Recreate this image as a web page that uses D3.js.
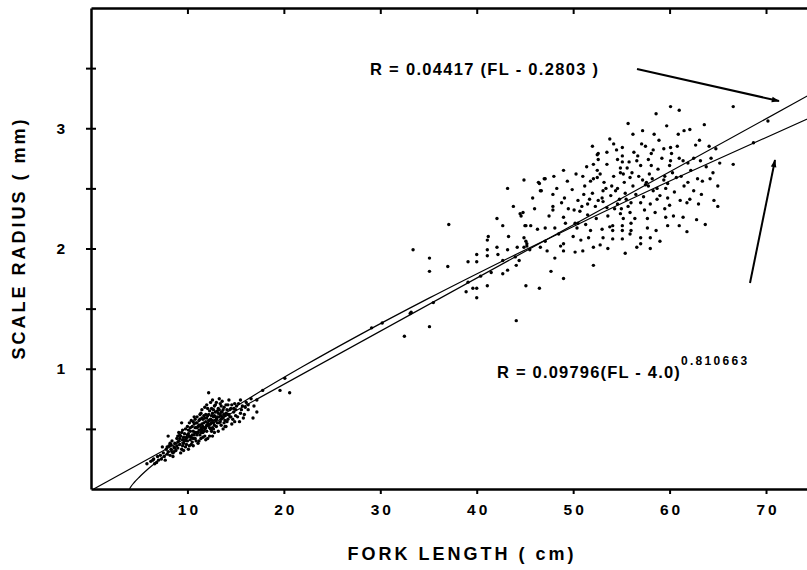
<!DOCTYPE html>
<html>
<head>
<meta charset="utf-8">
<script src="https://cdn.jsdelivr.net/npm/d3@7"></script>
<style>
body{margin:0;background:#fff}
text{font-family:"Liberation Sans",Arial,sans-serif;font-weight:bold;fill:#000}
</style>
</head>
<body>
<svg id="chart" width="807" height="570"></svg>
<script>
// tick values
const xTicks = [10, 20, 30, 40, 50, 60, 70]
const yTicks = [0.5, 1, 1.5, 2, 2.5, 3, 3.5]
const yLabels = [1, 2, 3]

// fish: [fork length cm, scale radius mm]
const smallFish = [
  [5.8,0.21],[6.4,0.24],[6.2,0.23],[6.5,0.25],[6.8,0.22],[6.9,0.27],[7.0,0.24],[6.6,0.21],
  [7.2,0.28],[7.3,0.25],[7.5,0.30],[7.6,0.27],[7.8,0.33],[7.9,0.29],[7.4,0.35],[7.7,0.24],[8.0,0.31],
  [8.1,0.36],[8.2,0.28],[8.3,0.33],[8.4,0.40],[8.5,0.30],[8.6,0.35],[8.7,0.38],[8.8,0.32],[8.9,0.42],
  [8.2,0.38],[8.5,0.27],[8.9,0.36],[8.0,0.44],[8.6,0.31],
  [9.0,0.34],[9.1,0.40],[9.2,0.37],[9.3,0.44],[9.4,0.33],[9.5,0.41],[9.6,0.38],[9.7,0.46],[9.8,0.35],
  [9.9,0.43],[9.1,0.47],[9.3,0.30],[9.5,0.49],[9.7,0.40],[9.9,0.37],[9.2,0.42],[9.6,0.32],[9.8,0.50],[9.4,0.55],
  [10.0,0.40],[10.1,0.46],[10.2,0.36],[10.3,0.51],[10.4,0.43],[10.5,0.39],[10.6,0.48],[10.7,0.54],
  [10.8,0.42],[10.9,0.47],[10.0,0.52],[10.2,0.44],[10.4,0.57],[10.6,0.36],[10.8,0.51],[10.1,0.33],
  [10.5,0.45],[10.7,0.60],[10.9,0.40],[10.3,0.48],[10.6,0.42],[10.9,0.55],[10.4,0.37],
  [11.0,0.45],[11.1,0.52],[11.2,0.40],[11.3,0.58],[11.4,0.47],[11.5,0.54],[11.6,0.43],[11.7,0.61],
  [11.8,0.50],[11.9,0.56],[11.0,0.60],[11.2,0.49],[11.4,0.63],[11.6,0.52],[11.8,0.44],[11.1,0.38],
  [11.3,0.53],[11.5,0.66],[11.7,0.48],[11.9,0.62],[11.2,0.57],[11.6,0.58],[11.8,0.68],[11.4,0.42],[11.0,0.51],
  [12.0,0.48],[12.1,0.55],[12.2,0.62],[12.3,0.44],[12.4,0.58],[12.5,0.67],[12.6,0.51],[12.7,0.60],
  [12.8,0.47],[12.9,0.64],[12.0,0.70],[12.2,0.53],[12.4,0.72],[12.6,0.57],[12.8,0.69],[12.1,0.42],
  [12.3,0.65],[12.5,0.55],[12.7,0.50],[12.9,0.57],[12.2,0.80],[12.4,0.50],[12.6,0.74],[12.8,0.61],
  [12.0,0.59],[12.3,0.57],[12.7,0.66],
  [13.0,0.52],[13.1,0.60],[13.2,0.67],[13.3,0.55],[13.4,0.71],[13.5,0.58],[13.6,0.64],[13.7,0.50],
  [13.8,0.68],[13.9,0.61],[13.0,0.72],[13.2,0.48],[13.4,0.62],[13.6,0.73],[13.8,0.55],[13.1,0.65],
  [13.5,0.69],[13.9,0.52],[13.3,0.75],[13.7,0.59],
  [14.0,0.63],[14.1,0.56],[14.2,0.70],[14.4,0.60],[14.5,0.67],[14.6,0.54],[14.8,0.64],[14.9,0.71],
  [14.3,0.74],[14.7,0.58],[14.0,0.52],[14.4,0.66],[14.9,0.56],[14.2,0.62],
  [15.0,0.66],[15.2,0.60],[15.3,0.71],[15.5,0.63],[15.7,0.69],[15.8,0.59],[16.1,0.72],[16.3,0.66],
  [16.8,0.59],[17.2,0.64],[16.6,0.75],[15.4,0.56],[15.5,0.74],[16.3,0.70],[17.2,0.74],
  [17.8,0.82],[19.6,0.82],[20.6,0.80],[20.1,0.92],
  [9.0,0.39],[9.2,0.45],[9.4,0.47],[9.6,0.43],[9.8,0.41],[10.0,0.45],[10.1,0.49],[10.2,0.55],
  [10.3,0.41],[10.5,0.52],[10.6,0.56],[10.7,0.45],[10.8,0.47],[10.9,0.51],[11.0,0.55],[11.1,0.47],
  [11.2,0.53],[11.3,0.45],[11.4,0.51],[11.5,0.49],[11.5,0.59],[11.6,0.47],[11.7,0.55],[11.8,0.59],
  [11.9,0.51],[12.0,0.53],[12.1,0.61],[12.2,0.57],[12.3,0.51],[12.4,0.54],[12.5,0.61],[12.5,0.48],
  [12.6,0.63],[12.7,0.55],[12.8,0.53],[12.9,0.60],[13.0,0.58],[13.1,0.55],[13.2,0.63],[13.3,0.60],
  [13.4,0.56],[13.5,0.64],[13.6,0.60],[13.7,0.66],[13.8,0.62],[13.9,0.57],[14.1,0.66],[14.3,0.62],
  [14.5,0.60],[14.6,0.70],[14.8,0.67],[15.1,0.69],[15.6,0.66],[16.0,0.68],[8.3,0.37],[8.7,0.34],
  [8.4,0.31],[7.9,0.35],[9.5,0.36],[9.0,0.44],[11.3,0.62],[12.1,0.67],[12.9,0.70],[13.3,0.66],
  [14.0,0.70],[12.6,0.44],[11.9,0.41],[10.8,0.58],[16.9,0.69],[15.9,0.62],[13.5,0.53],[14.2,0.58],[15.0,0.61]
]

const largeFish = [
  [60.1,3.18],[61.0,3.15],[58.6,3.12],[63.6,3.03],[58.4,2.95],[61.5,2.98],[62.1,2.99],[53.8,2.91],
  [63.1,2.90],[55.1,2.84],[57.1,2.87],[57.5,2.85],[59.4,2.83],[60.1,2.84],[60.2,2.79],[62.7,2.86],
  [64.1,2.85],[58.3,2.82],[58.1,2.79],[52.6,2.79],[52.6,2.74],[52.1,2.70],[55.1,2.77],[55.1,2.72],
  [54.6,2.74],[56.7,2.77],[56.6,2.73],[57.8,2.74],[58.1,2.69],[60.1,2.73],[60.0,2.69],[61.0,2.75],
  [61.4,2.73],[61.9,2.71],[63.2,2.73],[64.5,2.63],[65.2,2.71],[52.5,2.65],[52.5,2.59],[54.9,2.67],
  [54.9,2.63],[55.2,2.62],[55.6,2.67],[56.1,2.63],[55.9,2.59],[51.8,2.56],[52.1,2.58],[49.4,2.56],
  [51.0,2.60],[53.4,2.50],[53.1,2.48],[53.0,2.42],[54.0,2.52],[54.4,2.48],[54.6,2.50],[56.2,2.52],
  [57.2,2.57],[57.6,2.55],[57.8,2.52],[58.3,2.48],[58.7,2.50],[59.4,2.57],[59.8,2.54],[60.7,2.59],
  [61.9,2.55],[63.4,2.56],[65.0,2.52],[44.9,2.57],[46.4,2.55],[47.1,2.58],[46.7,2.48],[47.9,2.45],
  [49.1,2.42],[49.9,2.49],[51.1,2.45],[51.7,2.41],[52.6,2.40],[53.1,2.39],[50.9,2.35],[51.5,2.37],
  [47.9,2.35],[47.9,2.32],[50.1,2.32],[50.7,2.31],[54.6,2.37],[55.0,2.33],[54.9,2.29],[55.7,2.35],
  [55.9,2.30],[57.0,2.38],[58.0,2.37],[58.7,2.41],[59.8,2.42],[59.5,2.33],[59.6,2.26],[59.8,2.19],
  [61.1,2.40],[62.1,2.41],[61.4,2.26],[63.0,2.37],[65.0,2.35],[44.5,2.29],[45.0,2.19],[45.6,2.19],
  [46.3,2.16],[47.1,2.17],[48.1,2.17],[49.0,2.26],[49.2,2.21],[50.2,2.21],[50.4,2.17],[51.8,2.15],
  [51.6,2.09],[53.0,2.16],[53.1,2.09],[52.8,2.03],[54.1,2.19],[54.1,2.15],[54.1,2.08],[55.1,2.19],
  [55.1,2.15],[55.1,2.08],[56.0,2.21],[56.0,2.15],[55.9,2.12],[57.7,2.25],[57.7,2.17],[57.0,2.09],
  [59.0,2.06],[61.0,2.19],[44.9,2.09],[45.2,2.02],[47.1,2.06],[46.6,2.01],[47.3,1.98],[49.0,2.04],
  [49.0,1.98],[48.1,1.92],[50.2,1.97],[51.0,1.98],[52.1,2.01],[55.4,1.96],[57.0,2.04],[58.0,2.09],
  [43.2,2.50],[37.1,2.20],[42.1,2.25],[42.7,2.19],[44.8,2.30],[44.6,2.27],[45.1,2.19],[41.2,2.10],
  [41.1,2.07],[43.3,2.10],[45.1,2.06],[45.2,2.04],[33.4,1.99],[35.1,1.92],[35.1,1.81],[37.0,1.85],
  [39.1,1.89],[40.0,1.95],[40.0,1.89],[41.1,1.99],[41.1,1.94],[42.1,2.01],[42.2,1.95],[43.2,1.99],
  [42.7,1.90],[44.2,2.01],[44.9,2.01],[44.4,1.90],[44.1,1.86],[43.2,1.82],[42.7,1.79],[41.1,1.69],
  [39.1,1.72],[39.6,1.67],[40.0,1.67],[38.9,1.64],[40.0,1.59],[45.1,1.69],[44.1,1.40],[35.1,1.35],
  [33.2,1.47],[32.5,1.27],[46.5,2.54],[47.0,2.58],[46.6,2.48],[52.1,1.86],[49.0,1.75],[47.7,1.81],
  [46.5,1.67],[52.5,2.78],
  [66.6,3.18],[70.2,3.06],[68.7,2.88],[66.6,2.70],
  [29.1,1.34],[30.2,1.38],[33.1,1.46],[35.5,1.55],[40.4,1.77],[41.5,1.80],[44.0,1.93],[45.5,1.99],
  [48.5,2.12],[50.5,2.21],[53.5,2.34],[55.5,2.41],[57.5,2.53],[59.5,2.60],[62.5,2.75],[64.8,2.83],
  [50.5,2.40],[51.2,2.52],[51.5,2.28],[52.0,2.46],[52.3,2.35],[52.8,2.62],[53.2,2.55],[53.5,2.70],
  [53.6,2.27],[53.9,2.44],[54.2,2.60],[54.3,2.33],[54.5,2.82],[54.8,2.41],[55.3,2.55],[55.4,2.46],
  [55.8,2.72],[56.0,2.38],[56.3,2.80],[56.5,2.45],[56.8,2.60],[57.0,2.69],[57.3,2.43],[57.4,2.32],
  [57.9,2.62],[58.2,2.58],[58.5,2.30],[58.8,2.66],[59.0,2.44],[59.2,2.75],[59.6,2.50],[60.0,2.36],
  [60.3,2.63],[60.5,2.47],[60.8,2.85],[61.2,2.60],[61.5,2.52],[61.8,2.38],[62.2,2.65],[62.5,2.48],
  [62.9,2.58],[63.3,2.45],[63.8,2.68],[64.2,2.58],[64.6,2.40],[56.4,2.25],[55.2,2.25],[53.8,2.18],
  [52.4,2.25],[51.3,2.20],[50.0,2.10],[49.5,2.33],[48.8,2.38],[48.3,2.50],[47.5,2.27],[46.0,2.33],
  [45.8,2.42],[43.8,2.35],[48.7,2.02],[50.8,2.07],[53.6,2.00],[56.6,2.01],[58.6,2.15],[60.4,2.27],
  [62.8,2.24],[58.9,2.90],[56.2,2.95],[54.2,2.87],[52.0,2.85],[60.9,2.95],[59.7,3.02],[57.2,2.98],
  [55.7,3.04],[53.5,2.80],[51.4,2.68],[50.3,2.62],[49.0,2.65],[48.0,2.60],[58.0,2.00],[61.8,2.14],
  [63.7,2.20],[64.3,2.75]
]

// R = 0.04417(FL - 0.2803)
const linearFit = [[0.2803, 0], [75, 3.300]]
// R = 0.09796(FL - 4.0)^0.810663, read at a few lengths
const powerFit = [
  [4.0,0],[4.05,0.009],[4.2,0.027],[4.5,0.056],[5,0.098],[6,0.172],[8,0.301],[10,0.419],
  [13,0.582],[17,0.784],[22,1.020],[28,1.288],[35,1.585],[43,1.909],[52,2.260],[62,2.634],[75,3.103]
]

const svg = d3.select("#chart")
const x = d3.scaleLinear().domain([0, 74.25]).range([91, 807])
const y = d3.scaleLinear().domain([0, 4]).range([489, 8])

const defs = svg.append("defs")
defs.append("clipPath").attr("id", "plot")
  .append("rect").attr("x", 91).attr("y", 8).attr("width", 716).attr("height", 481)
defs.append("marker")
  .attr("id", "head").attr("viewBox", "0 0 10 10").attr("refX", 9).attr("refY", 5)
  .attr("markerWidth", 10).attr("markerHeight", 8).attr("orient", "auto")
  .attr("markerUnits", "userSpaceOnUse")
  .append("path").attr("d", "M0,1.5L10,5L0,8.5Z").attr("fill", "#000")

// axes
const xAxisBottom = svg.append("g").attr("transform", `translate(0,${y(0)})`)
  .call(d3.axisBottom(x).tickValues(xTicks).tickSize(5).tickSizeOuter(0).tickPadding(10))
const xAxisTop = svg.append("g").attr("transform", `translate(0,${y(4)})`)
  .call(d3.axisTop(x).tickValues(xTicks).tickSize(-6).tickSizeOuter(0).tickFormat(""))
const yAxis = svg.append("g").attr("transform", `translate(${x(0)},0)`)
  .call(d3.axisLeft(y).tickValues(yTicks).tickSize(5).tickSizeOuter(0).tickPadding(21)
    .tickFormat(d => yLabels.includes(d) ? d : ""))
yAxis.selectAll(".tick line").attr("x1", 5)

svg.selectAll(".domain").attr("stroke", "#000").attr("stroke-width", 2.5)
svg.selectAll(".tick line").attr("stroke", "#000").attr("stroke-width", 2)
svg.selectAll(".tick text").attr("font-size", 15.5).attr("font-family", "Liberation Sans, sans-serif")
  .attr("font-weight", "bold")
xAxisBottom.selectAll(".tick text").attr("letter-spacing", 3).attr("dx", 1.5)

// fits
const line = d3.line().x(d => x(d[0])).y(d => y(d[1]))
const fits = svg.append("g").attr("clip-path", "url(#plot)")
fits.append("path").datum(linearFit).attr("d", line)
  .attr("fill", "none").attr("stroke", "#000").attr("stroke-width", 1.2)
fits.append("path").datum(powerFit).attr("d", line.curve(d3.curveMonotoneX))
  .attr("fill", "none").attr("stroke", "#000").attr("stroke-width", 1.2)

// points
svg.append("g").attr("clip-path", "url(#plot)")
  .selectAll("circle").data(smallFish.concat(largeFish)).join("circle")
  .attr("cx", d => x(d[0])).attr("cy", d => y(d[1])).attr("r", 1.7).attr("fill", "#000")

// equations and arrows
svg.append("text").attr("x", 370).attr("y", 75).attr("font-size", 16.5).attr("letter-spacing", 1.3)
  .text("R = 0.04417 (FL - 0.2803 )")
svg.append("line").attr("x1", 637).attr("y1", 69).attr("x2", 779).attr("y2", 101)
  .attr("stroke", "#000").attr("stroke-width", 2).attr("marker-end", "url(#head)")

const eq2 = svg.append("text").attr("x", 497).attr("y", 378).attr("font-size", 16.5).attr("letter-spacing", 1.2)
eq2.append("tspan").text("R = 0.09796(FL - 4.0)")
eq2.append("tspan").attr("dy", -13).attr("font-size", 12).attr("letter-spacing", 2.3).text("0.810663")
svg.append("line").attr("x1", 750).attr("y1", 283).attr("x2", 775).attr("y2", 160)
  .attr("stroke", "#000").attr("stroke-width", 2).attr("marker-end", "url(#head)")

// axis titles
svg.append("text").attr("x", 462).attr("y", 560).attr("text-anchor", "middle")
  .attr("font-size", 18).attr("letter-spacing", 3).text("FORK LENGTH ( cm)")
svg.append("text").attr("transform", "translate(25,238) rotate(-90)").attr("text-anchor", "middle")
  .attr("font-size", 18).attr("letter-spacing", 3).text("SCALE RADIUS ( mm)")
</script>
</body>
</html>
